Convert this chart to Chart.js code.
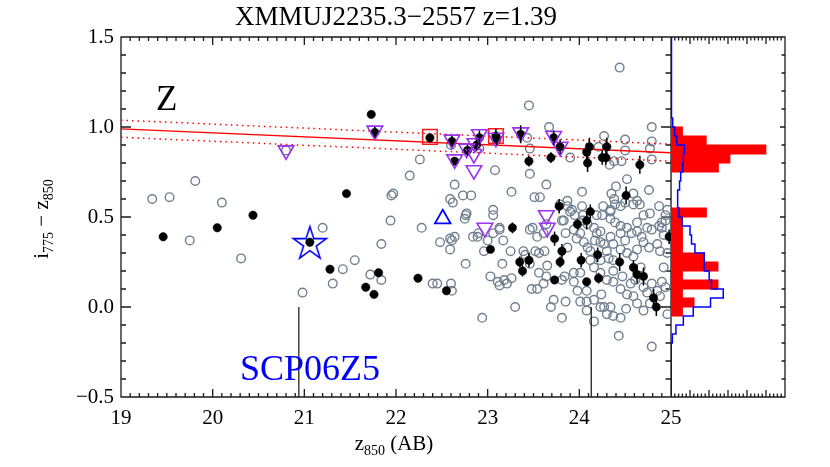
<!DOCTYPE html>
<html>
<head>
<meta charset="utf-8">
<script src="https://cdn.jsdelivr.net/npm/chart.js@4/dist/chart.umd.min.js"></script>
<style>
html,body{margin:0;padding:0;background:#fff;}
canvas{display:block;}
</style>
</head>
<body>
<canvas id="c" width="830" height="467"></canvas>
<script>
// ---------------- data ----------------
const magRange = [19, 25];
const colorRange = [-0.5, 1.5];
const histRange = [0, 6];
const xTickLabels = ['19','20','21','22','23','24','25'];

// all galaxies (open grey circles)
const greyMag = [19.34,19.53,19.81,20.10,20.80,21.20,21.94,21.95,21.97,19.75,20.31,20.98,21.31,21.42,21.55,21.72,21.84,21.84,
23.45,24.44,22.26,22.15,22.60,22.64,22.59,22.62,22.73,22.82,22.91,23.08,23.43,23.46,23.46,23.64,23.67,23.26,23.51,23.57,23.90,23.87,
23.79,24.03,24.21,24.27,24.50,24.50,24.33,24.38,24.46,24.79,24.79,24.77,24.79,24.52,24.40,24.35,24.38,24.26,24.25,24.34,
24.59,24.63,24.66,24.76,24.87,24.94,24.90,22.28,22.76,22.77,23.06,23.06,23.13,23.49,23.83,23.90,23.95,24.04,
22.48,22.59,22.64,22.61,22.59,22.75,22.76,22.40,22.45,22.60,22.61,22.84,22.89,22.90,22.96,23.00,23.06,23.13,23.17,23.03,
23.11,23.13,22.94,23.30,23.16,23.18,23.26,23.21,23.25,23.39,23.41,23.46,23.54,23.61,23.64,23.52,23.56,23.62,23.46,23.56,
23.61,23.65,23.64,23.54,23.48,23.72,23.69,23.81,23.85,23.87,23.92,23.81,23.85,23.94,23.97,23.87,24.01,24.05,24.09,24.12,
24.04,24.09,24.03,24.19,24.16,24.19,24.23,24.17,24.23,24.27,23.94,24.01,23.84,23.81,23.94,23.98,24.08,24.01,24.08,24.16,
24.24,24.23,24.27,24.34,24.30,24.37,24.45,24.51,24.43,24.16,24.34,24.39,24.45,24.50,24.59,24.34,24.39,24.45,24.52,24.57,
24.63,24.68,24.74,24.79,24.87,24.90,24.92,24.85,24.88,24.96,24.92,24.90,24.85,24.94,24.88,24.77,24.70,24.63,24.59,24.52,
24.45,24.37,24.30,24.37,24.47,24.56,24.61,24.70,24.74,24.79,24.67,24.59,24.52,24.45,24.37,24.32,24.37,24.23,24.30,24.12,
24.16,24.23,24.45,24.34,24.50,24.63,24.70,24.76,24.94,24.96,24.77,24.70,24.63,24.79,24.96,24.08];
const greyColor = [0.60,0.61,0.70,0.58,0.87,0.44,0.48,0.62,0.63,0.37,0.27,0.08,0.13,0.21,0.26,0.18,0.15,0.35,
1.12,1.33,0.82,0.73,0.90,0.68,0.60,0.58,0.62,0.62,0.88,0.76,0.94,0.88,0.74,0.68,1.00,0.64,0.61,0.61,0.83,0.59,
0.57,0.64,0.89,0.95,0.93,0.87,0.79,0.81,0.81,1.00,0.92,0.88,0.82,0.71,0.67,0.63,0.60,0.56,0.51,0.53,
0.63,0.59,0.57,0.65,0.56,0.51,0.47,0.44,0.51,0.52,0.54,0.51,0.44,0.44,0.48,0.53,0.51,0.51,
0.36,0.38,0.39,0.37,0.32,0.49,0.24,0.13,0.13,0.13,0.09,0.39,0.39,0.41,0.31,0.37,0.41,0.43,0.37,0.17,
0.14,0.12,-0.06,0.00,0.24,0.15,0.16,0.13,0.31,0.31,0.29,0.43,0.39,0.41,0.46,0.31,0.30,0.31,0.24,0.19,
0.13,0.23,0.17,0.10,0.10,0.04,0.00,-0.06,0.03,0.56,0.54,0.48,0.41,0.43,0.38,0.33,0.41,0.36,0.33,0.31,
0.48,0.46,0.56,0.51,0.44,0.41,0.42,0.37,0.36,0.35,0.19,0.19,0.17,0.15,0.14,0.09,0.09,0.03,0.03,0.04,
0.07,0.00,0.00,0.00,-0.04,-0.05,-0.06,-0.01,-0.16,-0.08,0.54,0.57,0.56,0.58,0.57,0.49,0.47,0.45,0.44,0.41,
0.42,0.39,0.44,0.43,0.45,0.44,0.40,0.35,0.31,0.30,0.22,0.14,0.09,0.11,0.06,0.02,-0.02,0.02,0.06,0.07,
0.10,0.14,0.15,0.20,0.17,0.13,0.15,0.11,0.08,0.13,0.22,0.28,0.30,0.32,0.35,0.27,0.26,0.26,0.31,0.26,
0.22,0.19,0.41,0.39,0.37,0.32,0.36,0.33,0.48,0.54,0.52,0.51,0.47,-0.22,-0.04,-0.02];

// selected galaxies (filled black dots with error bars)
const blackMag = [19.46,20.05,20.44,21.06,21.28,21.67,21.76,21.81,21.46,21.73,21.77,22.24,22.55,22.37,22.61,22.64,22.78,22.88,22.91,23.09,
23.10,23.36,23.45,23.69,23.72,23.79,24.08,24.09,24.11,24.25,24.30,24.29,24.66,24.51,23.78,24.12,24.08,23.98,23.27,23.73,
23.81,23.79,23.03,23.35,23.45,23.38,23.73,24.02,24.20,24.08,24.21,24.44,24.59,24.63,24.70,24.81,24.84,24.98];
const blackColor = [0.39,0.44,0.51,0.36,0.21,0.11,0.07,0.19,0.63,1.07,0.97,0.16,0.09,0.94,0.92,0.81,0.87,0.90,0.94,0.95,
0.93,0.96,0.81,0.83,0.94,0.89,0.86,0.80,0.89,0.83,0.89,0.83,0.79,0.62,0.56,0.53,0.48,0.46,0.44,0.38,
0.31,0.25,0.32,0.25,0.26,0.20,0.15,0.26,0.29,0.14,0.16,0.25,0.22,0.18,0.17,0.05,0.00,0.39];
const blackErr = [0,0,0,0,0,0,0,0,0,0,0.03,0,0,0,0.03,0.02,0.03,0.03,0.04,0.04,
0.03,0.05,0.03,0.03,0.04,0.04,0.05,0.05,0.05,0.04,0.05,0.04,0.05,0.05,0.04,0.04,0.05,0.03,0.03,0.04,
0.04,0.03,0.02,0.03,0.04,0.03,0.02,0.04,0.04,0.02,0.03,0.05,0.04,0.05,0.05,0.05,0.05,0.04];

// violet inverted triangles
const violetMag = [20.80,21.77,22.61,22.64,22.77,22.86,22.85,22.85,22.91,23.09,23.36,23.72,23.79,23.64,23.65,22.97];
const violetColor = [0.87,0.98,0.93,0.82,0.88,0.91,0.85,0.76,0.96,0.94,0.97,0.95,0.89,0.51,0.44,0.44];

// red squares
const squareMag = [22.37, 23.09];
const squareColor = [0.945, 0.95];

// blue triangle and star (SN host)
const blueTriMag = [22.51];
const blueTriColor = [0.49];
const starMag = [21.06];
const starColor = [0.35];

// red-sequence fit and scatter band
const fitMag = [19, 25];
const fitColor = [0.99, 0.857];
const fitUpper = [1.038, 0.905];
const fitLower = [0.943, 0.81];

// magnitude limit markers
const limitMag = [20.94, 24.13];
const limitTop = 0.0;

// colour histograms (bin lower edges, width 0.05)
const binWidth = 0.05;
const redBinLow = [-0.05,0.00,0.05,0.10,0.15,0.20,0.25,0.30,0.35,0.40,0.45,0.50,0.55,0.60,0.65,0.70,0.75,0.80,0.85,0.90,0.95];
const redCount  = [0.61,1.22,0.61,2.48,0.61,2.48,1.75,0.61,0.61,0.61,0.61,1.87,0,0,0,0,2.50,3.11,5.00,1.86,0.61];
const blueBinLow = [-0.25,-0.20,-0.15,-0.10,-0.05,0.00,0.05,0.10,0.15,0.20,0.25,0.30,0.35,0.40,0.45,0.50,0.55,0.60,0.65,0.70,0.75,0.80,0.85,0.90,0.95,1.00,1.05,1.10,1.15,1.20];
const blueCount  = [0.02,0.07,0.26,0.65,1.17,2.08,2.75,2.13,2.01,1.75,1.75,1.26,1.08,1.00,0.58,0.42,0.35,0.35,0.45,0.51,0.62,0.65,0.70,0.30,0.19,0.09,0.05,0.04,0.03,0.02];

// ---------------- helpers ----------------
const pts = (xs, ys) => xs.map((v, i) => ({x: v, y: ys[i]}));
const SERIF = '"Liberation Serif", "DejaVu Serif", serif';

const blueStepPts = [{x: 0, y: colorRange[0]}, {x: 0, y: blueBinLow[0]}];
blueBinLow.forEach((lo, i) => {
  blueStepPts.push({x: blueCount[i], y: lo});
  blueStepPts.push({x: blueCount[i], y: lo + binWidth});
});
blueStepPts.push({x: 0, y: blueBinLow[blueBinLow.length - 1] + binWidth});
blueStepPts.push({x: 0, y: colorRange[1]});

const starImg = (() => {
  const c = document.createElement('canvas');
  c.width = 40; c.height = 40;
  const g = c.getContext('2d');
  g.strokeStyle = '#0000ff'; g.lineWidth = 1.6; g.lineJoin = 'miter';
  g.beginPath();
  const R = 17.4, r = R * 0.382;
  for (let k = 0; k < 10; k++) {
    const a = -Math.PI / 2 + k * Math.PI / 5;
    const rr = (k % 2) ? r : R;
    const px = 20 + rr * Math.cos(a), py = 20 + rr * Math.sin(a);
    if (k) g.lineTo(px, py); else g.moveTo(px, py);
  }
  g.closePath(); g.stroke();
  return c;
})();

// ---------------- plugins ----------------
const framePlugin = {
  id: 'frame',
  beforeDatasetsDraw(chart) {
    const ctx = chart.ctx, xs = chart.scales.x, xh = chart.scales.xh, ys = chart.scales.y;
    const top = chart.chartArea.top, bot = chart.chartArea.bottom;
    const L = xs.left, M = xs.right, R = xh.right;
    ctx.save();
    ctx.strokeStyle = '#1a1a1a'; ctx.lineWidth = 1.3;
    ctx.beginPath();
    ctx.rect(L, top, M - L, bot - top);
    ctx.moveTo(M, top); ctx.lineTo(R, top); ctx.lineTo(R, bot); ctx.lineTo(M, bot);
    for (let i = magRange[0] * 10; i <= magRange[1] * 10; i++) {
      const px = xs.getPixelForValue(i / 10);
      const len = (i % 10 === 0) ? 8 : 4;
      ctx.moveTo(px, bot); ctx.lineTo(px, bot - len);
      ctx.moveTo(px, top); ctx.lineTo(px, top + len);
    }
    for (let i = 0; i <= histRange[1] * 5; i++) {
      const px = xh.getPixelForValue(i / 5);
      const len = (i % 5 === 0) ? 7 : 3.5;
      ctx.moveTo(px, bot); ctx.lineTo(px, bot - len);
      ctx.moveTo(px, top); ctx.lineTo(px, top + len);
    }
    for (let i = colorRange[0] * 10; i <= colorRange[1] * 10; i++) {
      const py = ys.getPixelForValue(i / 10);
      const major = (i % 5 === 0);
      ctx.moveTo(L, py); ctx.lineTo(L + (major ? 10 : 5), py);
      ctx.moveTo(M, py); ctx.lineTo(M - (major ? 10 : 5.5), py);
      ctx.moveTo(R, py); ctx.lineTo(R - (major ? 5 : 3.5), py);
    }
    ctx.stroke();
    ctx.restore();
  }
};

const errPlugin = {
  id: 'errbars',
  afterDatasetsDraw(chart) {
    const idx = chart.data.datasets.findIndex(d => d.label === 'members');
    const meta = chart.getDatasetMeta(idx);
    const ys = chart.scales.y, ctx = chart.ctx;
    ctx.save();
    ctx.strokeStyle = '#000'; ctx.lineWidth = 1.5;
    ctx.beginPath();
    meta.data.forEach((p, i) => {
      const e = blackErr[i];
      if (!e) return;
      ctx.moveTo(p.x, ys.getPixelForValue(blackColor[i] - e));
      ctx.lineTo(p.x, ys.getPixelForValue(blackColor[i] + e));
    });
    ctx.stroke();
    ctx.restore();
  }
};

function drawParts(ctx, parts, x, y, size, subSize, align) {
  const w = parts.reduce((s, p) => {
    ctx.font = (p.sub ? subSize : size) + 'px ' + SERIF;
    return s + ctx.measureText(p.t).width;
  }, 0);
  let cx = align === 'center' ? x - w / 2 : x;
  parts.forEach(p => {
    ctx.font = (p.sub ? subSize : size) + 'px ' + SERIF;
    ctx.fillText(p.t, cx, p.sub ? y + size * 0.25 : y);
    cx += ctx.measureText(p.t).width;
  });
}

const textPlugin = {
  id: 'texts',
  afterDraw(chart) {
    const ctx = chart.ctx, xs = chart.scales.x;
    ctx.save();
    ctx.fillStyle = '#000';
    ctx.textBaseline = 'alphabetic';
    ctx.textAlign = 'left';
    ctx.font = '27px ' + SERIF;
    const title = 'XMMUJ2235.3\u22122557 z=1.39';
    const tw = ctx.measureText(title).width;
    ctx.fillText(title, (xs.left + xs.right) / 2 - tw / 2, 25);
    drawParts(ctx, [{t: 'z'}, {t: '850', sub: true}, {t: ' (AB)'}], (xs.left + xs.right) / 2 - 2, 450, 21, 14, 'center');
    ctx.save();
    ctx.translate(48, (chart.chartArea.top + chart.chartArea.bottom) / 2 + 2);
    ctx.rotate(-Math.PI / 2);
    drawParts(ctx, [{t: 'i'}, {t: '775', sub: true}, {t: ' \u2212 z'}, {t: '850', sub: true}], 0, 0, 21, 14, 'center');
    ctx.restore();
    ctx.font = '35px ' + SERIF;
    ctx.fillText('Z', 156, 110);
    ctx.fillStyle = '#0000ff';
    ctx.font = '36px ' + SERIF;
    ctx.fillText('SCP06Z5', 240, 380);
    ctx.restore();
  }
};

// ---------------- chart ----------------
const tickFont = {family: SERIF, size: 21};

new Chart(document.getElementById('c'), {
  type: 'scatter',
  data: {
    datasets: [
      { type: 'scatter', label: 'all', data: pts(greyMag, greyColor), order: 10,
        pointStyle: 'circle', pointRadius: 4.3, pointBorderWidth: 1.4,
        pointBorderColor: 'rgb(112,128,144)', borderColor: 'rgb(112,128,144)',
        pointBackgroundColor: 'rgba(0,0,0,0)', backgroundColor: 'rgba(0,0,0,0)' },
      { type: 'bar', label: 'redHist', indexAxis: 'y', xAxisID: 'xh', yAxisID: 'y', order: 9,
        data: redBinLow.map((lo, i) => ({x: redCount[i], y: lo + binWidth / 2})),
        backgroundColor: '#ff0000', borderWidth: 0, barPercentage: 1, categoryPercentage: 1,
        barThickness: 9.4, grouped: false },
      { type: 'line', label: 'blueHist', xAxisID: 'xh', yAxisID: 'y', order: 8.5,
        data: blueStepPts, borderColor: '#0000ff', borderWidth: 1.5, pointRadius: 0, fill: false, tension: 0 },
      { type: 'line', label: 'fit', data: pts(fitMag, fitColor), order: 8,
        borderColor: '#ff0000', borderWidth: 1.3, pointRadius: 0, fill: false },
      { type: 'line', label: 'fitUp', data: pts(fitMag, fitUpper), order: 8,
        borderColor: '#ff0000', borderWidth: 1.5, borderDash: [1.5, 4], pointRadius: 0, fill: false },
      { type: 'line', label: 'fitLo', data: pts(fitMag, fitLower), order: 8,
        borderColor: '#ff0000', borderWidth: 1.5, borderDash: [1.5, 4], pointRadius: 0, fill: false },
      { type: 'line', label: 'lim1', data: [{x: limitMag[0], y: colorRange[0]}, {x: limitMag[0], y: limitTop}], order: 7,
        borderColor: '#111', borderWidth: 1.2, pointRadius: 0, fill: false },
      { type: 'line', label: 'lim2', data: [{x: limitMag[1], y: colorRange[0]}, {x: limitMag[1], y: limitTop}], order: 7,
        borderColor: '#111', borderWidth: 1.2, pointRadius: 0, fill: false },
      { type: 'scatter', label: 'members', data: pts(blackMag, blackColor), order: 5,
        pointStyle: 'circle', pointRadius: 4.2, pointBorderWidth: 0.5,
        pointBorderColor: '#000', borderColor: '#000', pointBackgroundColor: '#000', backgroundColor: '#000' },
      { type: 'scatter', label: 'violet', data: pts(violetMag, violetColor), order: 3,
        pointStyle: 'triangle', pointRotation: 180, pointRadius: 9, pointBorderWidth: 1.6,
        pointBorderColor: '#9a32f0', borderColor: '#9a32f0', pointBackgroundColor: 'rgba(0,0,0,0)', backgroundColor: 'rgba(0,0,0,0)' },
      { type: 'scatter', label: 'squares', data: pts(squareMag, squareColor), order: 3,
        pointStyle: 'rect', pointRadius: 10.3, pointBorderWidth: 1.5,
        pointBorderColor: '#ff1a1a', borderColor: '#ff1a1a', pointBackgroundColor: 'rgba(0,0,0,0)', backgroundColor: 'rgba(0,0,0,0)' },
      { type: 'scatter', label: 'blueTri', data: pts(blueTriMag, blueTriColor), order: 3,
        pointStyle: 'triangle', pointRadius: 9, pointBorderWidth: 1.8,
        pointBorderColor: '#0000ff', borderColor: '#0000ff', pointBackgroundColor: 'rgba(0,0,0,0)', backgroundColor: 'rgba(0,0,0,0)' },
      { type: 'scatter', label: 'star', data: pts(starMag, starColor), order: 2,
        pointStyle: starImg, pointRadius: 17 }
    ]
  },
  options: {
    responsive: false,
    animation: false,
    devicePixelRatio: 1,
    events: [],
    layout: {padding: {top: 37, right: 45, bottom: 0, left: 0}},
    plugins: {legend: {display: false}, tooltip: {enabled: false}, title: {display: false}},
    scales: {
      x: {
        type: 'linear', position: 'bottom', min: magRange[0], max: magRange[1], offset: false,
        stack: 'bottom', stackWeight: 550, weight: 1,
        grid: {display: false, drawTicks: false, offset: false}, border: {display: false},
        ticks: {stepSize: 1, padding: 9, font: tickFont, color: '#000', maxRotation: 0, autoSkip: false,
                callback: (v, i) => xTickLabels[i]},
        afterFit: s => { s.height = 70; }
      },
      xh: {
        type: 'linear', axis: 'x', position: 'bottom', min: histRange[0], max: histRange[1], offset: false,
        stack: 'bottom', stackWeight: 114, weight: 2,
        grid: {display: false, drawTicks: false, offset: false}, border: {display: false},
        ticks: {display: false},
        afterFit: s => { s.height = 70; }
      },
      y: {
        type: 'linear', position: 'left', min: colorRange[0], max: colorRange[1], offset: false,
        grid: {display: false, drawTicks: false, offset: false}, border: {display: false},
        ticks: {stepSize: 0.5, padding: 7, font: tickFont, color: '#000',
                callback: v => (v < 0 ? '\u2212' : '') + Math.abs(v).toFixed(1)},
        afterFit: s => { s.width = 121; }
      }
    }
  },
  plugins: [framePlugin, errPlugin, textPlugin]
});
</script>
</body>
</html>
